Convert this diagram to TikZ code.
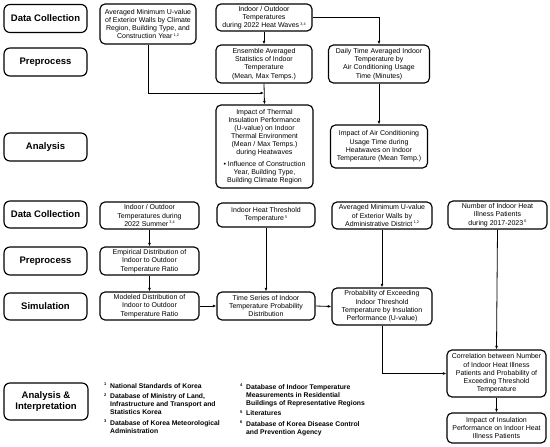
\documentclass[tikz,border=0pt]{standalone}
\usepackage{fontspec}
\setmainfont{Liberation Sans}
\usetikzlibrary{arrows.meta}
\newcommand\sups[1]{\,\raisebox{0.7ex}{\fontsize{3.8}{4}\selectfont #1}}
\newcommand\fnum[1]{\makebox[6pt][l]{\raisebox{0.7ex}{\fontsize{4}{4}\selectfont #1}}}
\newcommand\fnind{\hspace*{6pt}}
\tikzset{
  box/.style={draw, rounded corners=5pt, line width=1.15pt, align=center, inner sep=0pt,
    font=\fontsize{7}{8.3}\selectfont},
  stage/.style={draw, rounded corners=6pt, line width=1.15pt, align=center, inner sep=0pt,
    minimum width=83pt, font=\fontsize{9.5}{11}\selectfont\bfseries},
  arr/.style={line width=0.8pt, -{Latex[length=3.5pt,width=2.8pt]}},
  fnote/.style={align=left, inner sep=0pt, font=\fontsize{6.8}{8}\selectfont\bfseries},
}
\begin{document}
\begin{tikzpicture}[x=1pt,y=-1pt]
\useasboundingbox (0,0) rectangle (550,447);
% stage boxes
\node[stage, minimum height=28pt] (s1) at (45.5,18.5) {Data Collection};
\node[stage, minimum height=28pt] (s2) at (45.5,62) {Preprocess};
\node[stage, minimum height=28pt] (s3) at (45.5,147) {Analysis};
\node[stage, minimum height=27pt] (s4) at (45.5,214.5) {Data Collection};
\node[stage, minimum height=28pt] (s5) at (45.5,261) {Preprocess};
\node[stage, minimum height=27pt] (s6) at (45.5,306.5) {Simulation};
\node[stage, minimum height=37pt, minimum width=84pt] (s7) at (46,401.5) {Analysis \&\\ Interpretation};
% upper content
\node[box, minimum width=96pt, minimum height=40pt] (b1) at (148,24) {Averaged Minimum U-value\\ of Exterior Walls by Climate\\ Region, Building Type, and\\ Construction Year\sups{1,2}};
\node[box, minimum width=96pt, minimum height=27pt] (b2) at (264,17.5) {Indoor / Outdoor\\ Temperatures\\ during 2022 Heat Waves\sups{3,4}};
\node[box, minimum width=96pt, minimum height=38pt] (b3) at (264,64) {Ensemble Averaged\\ Statistics of Indoor\\ Temperature\\ (Mean, Max Temps.)};
\node[box, minimum width=101pt, minimum height=38pt] (b4) at (379,64) {Daily Time Averaged Indoor\\ Temperature by\\ Air Conditioning Usage\\ Time (Minutes)};
\node[box, minimum width=97pt, minimum height=83pt, font=\fontsize{7}{8.1}\selectfont] (b5) at (264.5,146.5) {Impact of Thermal\\ Insulation Performance\\ (U-value) on Indoor\\ Thermal Environment\\ (Mean / Max Temps.)\\ during Heatwaves\\[3pt] • Influence of Construction\\ Year, Building Type,\\ Building Climate Region};
\node[box, minimum width=97pt, minimum height=43pt] (b6) at (379,146.5) {Impact of Air Conditioning\\ Usage Time during\\ Heatwaves on Indoor\\ Temperature (Mean Temp.)};
\coordinate (j1) at (264,93);
\draw[arr] (b1.south) |- (j1);
\draw[arr] (b2.south) -- (b3.north);
\draw[arr] (b3.south) -- (b5.north);
\draw[arr] (b2.east) -| (b4.north);
\draw[arr] (b4.south) -- (b6.north);
% lower content
\node[box, minimum width=99pt, minimum height=27pt] (nA) at (149.5,215.5) {Indoor / Outdoor\\ Temperatures during\\ 2022 Summer\sups{3,4}};
\node[box, minimum width=99pt, minimum height=28pt] (nB) at (149.5,261) {Empirical Distribution of\\ Indoor to Outdoor\\ Temperature Ratio};
\node[box, minimum width=99pt, minimum height=28pt] (nC) at (149.5,306) {Modeled Distribution of\\ Indoor to Outdoor\\ Temperature Ratio};
\node[box, minimum width=98pt, minimum height=24pt] (nD) at (266,215) {Indoor Heat Threshold\\ Temperature\sups{5}};
\node[box, minimum width=98pt, minimum height=28pt] (nE) at (266,306) {Time Series of Indoor\\ Temperature Probability\\ Distribution};
\node[box, minimum width=100pt, minimum height=27pt] (nF) at (382,215.5) {Averaged Minimum U-value\\ of Exterior Walls by\\ Administrative District\sups{1,2}};
\node[box, minimum width=100pt, minimum height=37pt] (nG) at (382,306.5) {Probability of Exceeding\\ Indoor Threshold\\ Temperature by Insulation\\ Performance (U-value)};
\node[box, minimum width=99pt, minimum height=28pt] (nH) at (497.5,215) {Number of Indoor Heat\\ Illness Patients\\ during 2017-2023\sups{6}};
\node[box, minimum width=99pt, minimum height=47pt] (nI) at (496.5,373.5) {Correlation between Number\\ of Indoor Heat Illness\\ Patients and Probability of\\ Exceeding Threshold\\ Temperature};
\node[box, minimum width=99pt, minimum height=30pt] (nJ) at (496.5,428) {Impact of Insulation\\ Performance on Indoor Heat\\ Illness Patients};
\draw[arr] (nA.south) -- (nB.north);
\draw[arr] (nB.south) -- (nC.north);
\draw[arr] (nC.east) -- (nE.west);
\draw[arr] (nD.south) -- (nE.north);
\draw[arr] (nE.east) -- (nG.west);
\draw[arr] (nF.south) -- (nG.north);
\draw[arr] (nG.south) |- (nI.west);
\draw[arr] (nH.south) -- (nI.north);
\draw[arr] (nI.south) -- (nJ.north);
% footnotes
\node[fnote, anchor=north west] (fnL) at (104,383) {\fnum{1}National Standards of Korea\\[2.5pt]\fnum{2}Database of Ministry of Land,\\ \fnind Infrastructure and Transport and\\ \fnind Statistics Korea\\[2.5pt]\fnum{3}Database of Korea Meteorological\\ \fnind Administration};
\node[fnote, anchor=north west] (fnR) at (240,384) {\fnum{4}Database of Indoor Temperature\\ \fnind Measurements in Residential\\ \fnind Buildings of Representative Regions\\[2.5pt]\fnum{5}Literatures\\[2.5pt]\fnum{6}Database of Korea Disease Control\\ \fnind and Prevention Agency};
\end{tikzpicture}
\end{document}
